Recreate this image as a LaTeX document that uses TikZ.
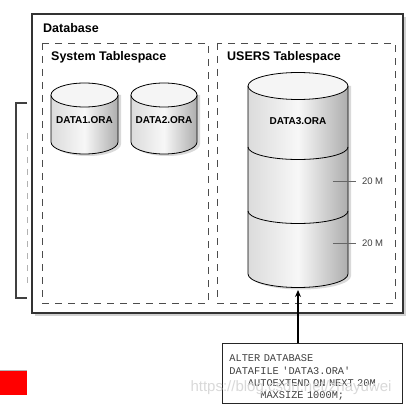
\documentclass[tikz,border=0pt]{standalone}
\usepackage{fontspec}
\setmainfont{Liberation Sans}
\setmonofont{Liberation Mono}
\usetikzlibrary{arrows.meta,calc}

% one data file drum: #1 centre x, #2 top y, #3 bottom y, #4 x radius, #5 y radius
\newcommand{\dbdrum}[5]{%
  \fill[black!15] (#1-#4+3,#2) -- (#1-#4+3,#3+2) arc (180:0:#4 and #5) -- (#1+#4+3,#2) -- cycle;
  \shade[left color=black!14, right color=black!32, middle color=black!3]
    (#1-#4,#2) -- (#1-#4,#3) arc (180:0:#4 and #5) -- (#1+#4,#2) -- cycle;
  \draw[cylline] (#1-#4,#2) -- (#1-#4,#3) arc (180:0:#4 and #5) -- (#1+#4,#2);
  \filldraw[cylline, fill=black!4] (#1,#2) ellipse (#4 and #5);
}

\begin{document}
\begin{tikzpicture}[x=1pt, y=-1pt,
    dbbox/.style={draw=black!80, line width=1.1pt},
    tsbox/.style={draw=black!70, line width=0.9pt, dash pattern=on 7pt off 6pt},
    cylline/.style={draw=black, line width=0.8pt},
    title/.style={anchor=west, inner sep=0pt, font=\fontsize{12.5}{14}\selectfont\bfseries},
    filelbl/.style={inner sep=0pt, font=\fontsize{10}{12}\selectfont\bfseries},
    sizelbl/.style={anchor=west, inner sep=0pt, outer sep=6pt, text=black!75,
                    font=\fontsize{9.5}{11}\selectfont},
    tick/.style={draw=black!60, line width=0.8pt},
    sqlbox/.style={draw=black!85, fill=white, line width=0.9pt, anchor=north west,
                   text width=166pt, inner xsep=7pt, minimum height=60pt, align=left,
                   text=black!75, font=\fontsize{10.3}{12.3}\selectfont\ttfamily}]
  \useasboundingbox (0,0) rectangle (410,411);

  % bracket and red mark at the left edge
  \draw[black!75, line width=1.2pt] (27,103) -- (16,103) -- (16,298) -- (27,298);
  \draw[black!30, line width=0.6pt, dash pattern=on 6pt off 6pt] (27,133) -- (27,287);
  \fill[red] (0,370) rectangle (27,395);
  \draw[black!30, line width=0.8pt] (0,370) -- (27,370);

  % database box with its shadow
  \fill[black!18] (35,17) rectangle (405.5,315.5);
  \draw[dbbox, fill=white] (32,14) rectangle (403,313);
  \node[title] (dblabel) at (43,28) {Database};

  % the two tablespaces
  \draw[tsbox] (42,43) rectangle (208,303);
  \draw[tsbox] (217,43) rectangle (395,303);
  \node[title] (syslabel) at (51,57) {System Tablespace};
  \node[title] (userslabel) at (227,57) {USERS Tablespace};

  % data files
  \dbdrum{84.5}{95}{142}{33.5}{12}
  \dbdrum{164}{95}{142}{33}{12}
  \dbdrum{298}{86}{274}{50}{13.5}
  \draw[cylline] (248,147) arc (180:0:50 and 12.5);
  \draw[cylline] (248,211) arc (180:0:50 and 12.5);
  \node[filelbl] (data1) at (84.5,120) {DATA1.ORA};
  \node[filelbl] (data2) at (164,120) {DATA2.ORA};
  \node[filelbl] (data3) at (298,121) {DATA3.ORA};
  \coordinate (d3bot) at (298,290);

  % extent sizes
  \coordinate (t1) at (333,181);
  \coordinate (t2) at (333,243);
  \node[sizelbl] (size1) at (356,181) {20 M};
  \node[sizelbl] (size2) at (356,243) {20 M};
  \draw[tick] (t1) -- (size1);
  \draw[tick] (t2) -- (size2);

  % the statement
  \node[sqlbox] (sql) at (222,343) {\rule{0pt}{15pt}ALTER DATABASE\\
    DATAFILE 'DATA3.ORA'\\
    \hphantom{MMM}AUTOEXTEND ON NEXT 20M\\
    \hphantom{MMMMM}MAXSIZE 1000M;};
  \draw[-{Stealth[length=7pt, width=6pt]}, line width=1.3pt] (d3bot |- sql.north) -- (d3bot);

  \node[text=black!15, inner sep=0pt, font=\fontsize{15}{17}\selectfont] (mark) at (291,388) {https://blog.csdn.net/zhayuwei};
\end{tikzpicture}
\end{document}
